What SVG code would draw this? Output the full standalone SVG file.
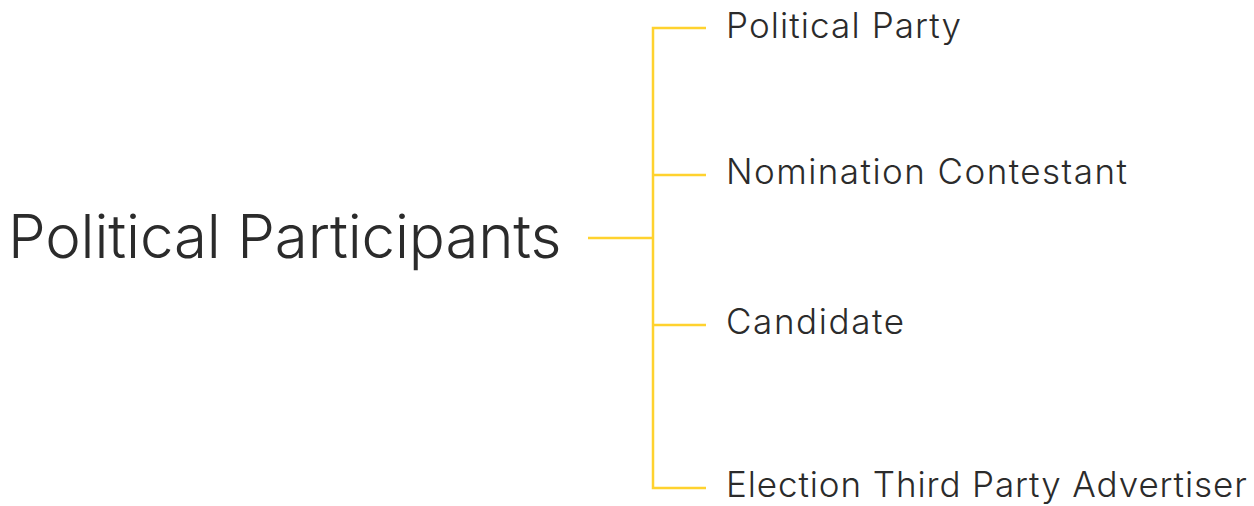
<svg xmlns="http://www.w3.org/2000/svg" width="1254" height="506" viewBox="0 0 1254 506">
<style>
.t{font-family:Inter,"Liberation Sans",sans-serif;font-weight:300;fill:#2b2b2b}
.l{font-size:35px}
.c{stroke:#FFD22E;stroke-width:2.5;fill:none}
</style>
<rect width="1254" height="506" fill="#fff"/>
<g id="connectors">
<path class="c" d="M588 238H653M706 28H653V488H706M653 175H706M653 325H706"/>
</g>
<g id="root"><text class="t" x="8" y="258" font-size="60" letter-spacing="-0.15">Political Participants</text></g>
<g id="n1"><text class="t l" x="726" y="38" letter-spacing="1.1">Political Party</text></g>
<g id="n2"><text class="t l" x="726" y="184" letter-spacing="1.45">Nomination Contestant</text></g>
<g id="n3"><text class="t l" x="726" y="334" letter-spacing="1.6">Candidate</text></g>
<g id="n4"><text class="t l" x="726" y="497" letter-spacing="0.9">Election Third Party Advertiser</text></g>
</svg>
